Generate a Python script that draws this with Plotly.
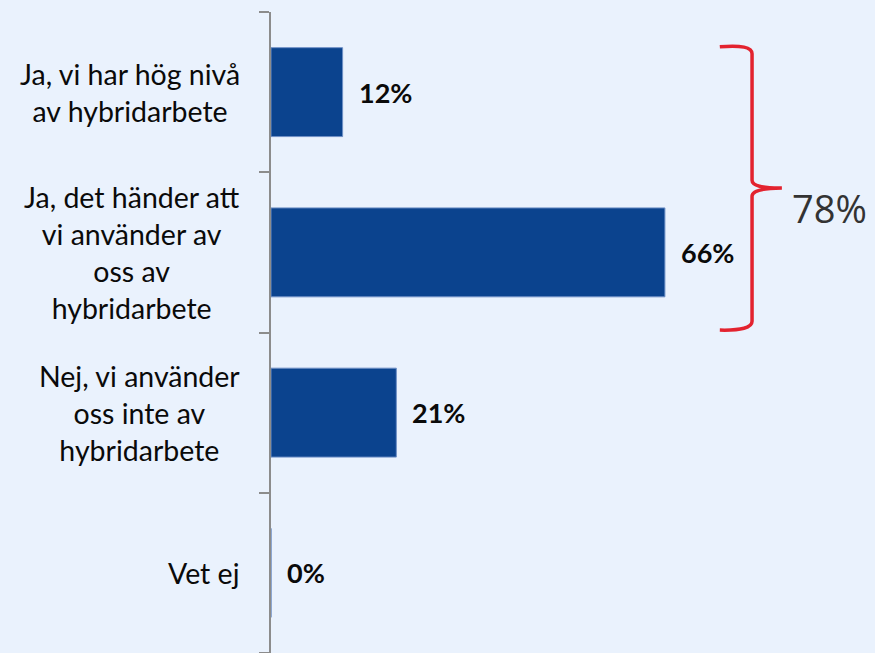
import plotly.graph_objects as go

categories = [
    "Ja, vi har hög nivå<br>av hybridarbete",
    "Ja, det händer att<br>vi använder av<br>oss av<br>hybridarbete",
    "Nej, vi använder<br>oss inte av<br>hybridarbete",
    "Vet ej",
]
values = [12, 66, 21, 0]
value_labels = ["12%", "66%", "21%", "0%"]
total_label = "78%"

bar_color = "#0B438E"
bg = "#EAF2FD"
red = "#E3232F"

fig = go.Figure()

fig.add_trace(go.Bar(
    x=values,
    y=list(range(len(categories))),
    orientation="h",
    marker=dict(color=bar_color, line=dict(color="#6F90C6", width=1)),
    width=0.555,
    hoverinfo="skip",
))

# category labels, centred text blocks right-aligned against the axis
for i, cat in enumerate(categories):
    fig.add_annotation(
        x=0, xref="paper", y=i, yref="y",
        text=cat, showarrow=False,
        xanchor="right", yanchor="middle", align="center",
        xshift=-29,
        font=dict(family="Lato", size=28.5, color="#0a0a0a"),
    )

# value labels
for i, (v, lab) in enumerate(zip(values, value_labels)):
    fig.add_annotation(
        x=v, y=i, text="<b>" + lab + "</b>", showarrow=False,
        xanchor="left", yanchor="middle", xshift=14,
        font=dict(family="Lato", size=27, color="#0a0a0a"),
    )

# brace grouping the two "Ja" answers
brace = ("M 75.2,-0.283 Q 80.6,-0.30 80.6,-0.24 "
         "L 80.6,0.55 Q 80.6,0.60 85.6,0.598 "
         "Q 80.6,0.60 80.6,0.65 "
         "L 80.6,1.43 Q 80.6,1.49 75.2,1.485")
fig.add_shape(type="path", path=brace, xref="x", yref="y",
              line=dict(color=red, width=3.5))

fig.add_annotation(
    x=93.6, y=0.72, text=total_label, showarrow=False,
    xanchor="center", yanchor="middle",
    font=dict(family="Open Sans", size=38, color="#333333"),
)

fig.update_layout(
    width=875, height=653,
    margin=dict(l=271, r=0, t=12, b=0),
    paper_bgcolor=bg, plot_bgcolor=bg,
    showlegend=False,
    xaxis=dict(range=[0, 101.2], visible=False),
    yaxis=dict(
        range=[3.5, -0.5],
        tickvals=[-0.5, 0.5, 1.5, 2.5, 3.5],
        ticktext=["", "", "", "", ""],
        showgrid=False, zeroline=False,
        showline=True, linecolor="#8C8C8C", linewidth=2,
        ticks="outside", ticklen=10, tickwidth=2, tickcolor="#8C8C8C",
    ),
)

fig.write_html("out.html", config={"displayModeBar": False},
               post_script="document.body.style.margin='0';")
